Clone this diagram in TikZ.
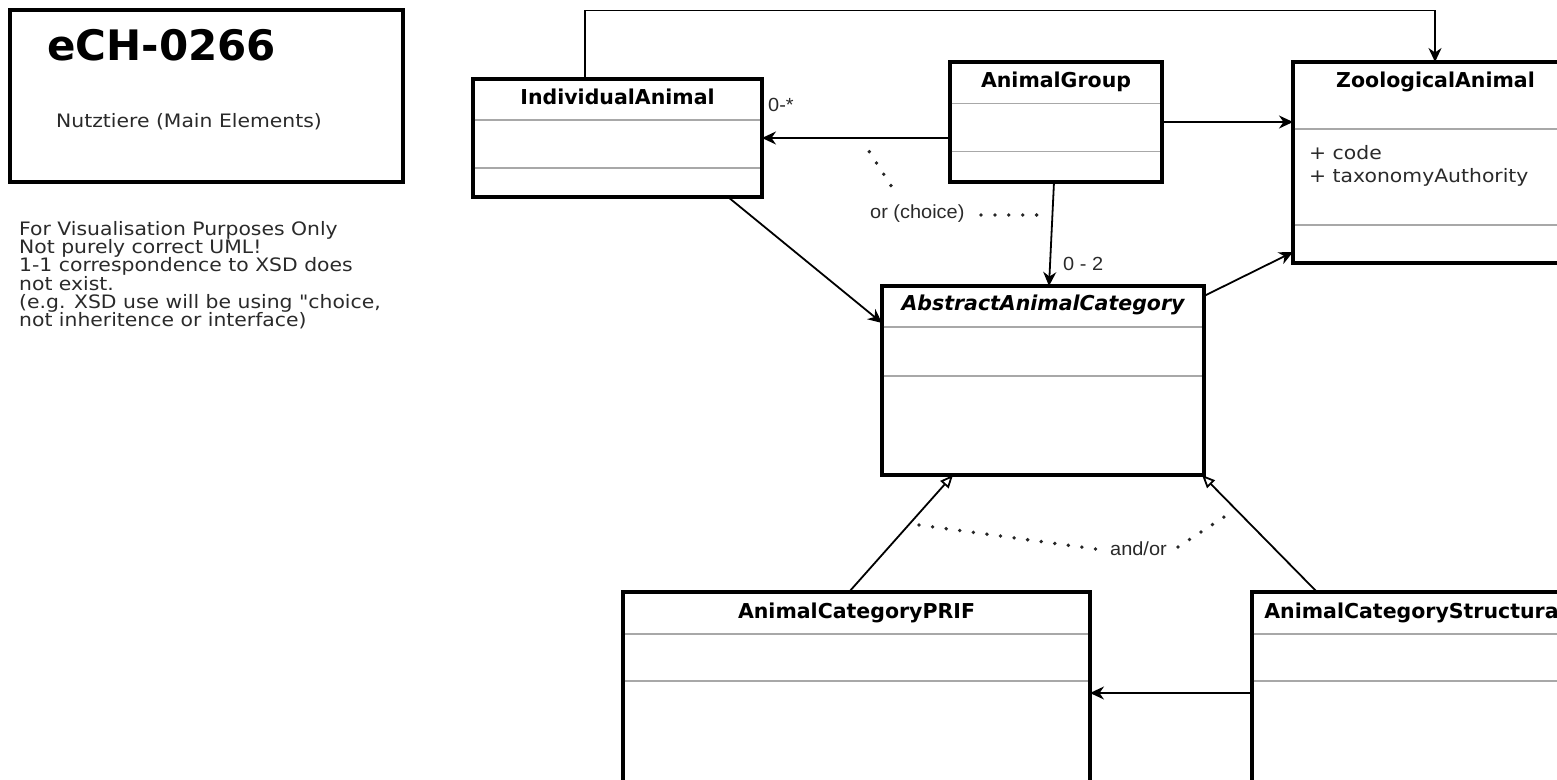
\documentclass[tikz,border=0pt]{standalone}
\usepackage{fontspec}
\setmainfont{DejaVu Sans}
\newfontfamily\regfont[FakeStretch=1.1]{DejaVu Sans}
\newfontfamily\labfont[FakeStretch=1.05]{Liberation Sans}
\usetikzlibrary{arrows.meta,calc}
\definecolor{txtgray}{HTML}{2A2A2A}
\definecolor{divgray}{HTML}{A8A8A8}
\begin{document}
\begin{tikzpicture}[x=1pt,y=-1pt,
  umlbox/.style={draw=black, line width=3.2pt, fill=white, inner sep=0pt, outer sep=0pt, anchor=north west},
  divline/.style={draw=divgray, line width=1.3pt, shorten <=1.6pt, shorten >=1.6pt},
  boxtitle/.style={font=\fontsize{20.5}{24}\selectfont\bfseries, anchor=base, inner sep=0pt},
  conn/.style={draw=black, line width=1.8pt},
  assoc/.style={conn, -{Stealth[length=14pt,width=13pt,inset=4.5pt]}},
  gen/.style={conn, -{Triangle[open,length=13pt,width=11pt,fill=white]}},
  dotline/.style={draw=black!85, line width=3.8pt, line cap=round, dash pattern=on 0pt off #1},
  lab/.style={font=\labfont\fontsize{19}{22}\selectfont, text=txtgray, inner sep=0pt, anchor=base west},
  reg/.style={font=\regfont\fontsize{18.5}{18.3}\selectfont, text=txtgray, inner sep=0pt},
]
\fill[white] (0,0) rectangle (1557,779);
\useasboundingbox (0,0) rectangle (1557,779);
\clip (0,0) rectangle (1557,779);

% header box
\node[umlbox, minimum width=393, minimum height=172] (hdr) at (10,10) {};
\node[font=\fontsize{42}{42}\selectfont\bfseries, anchor=base west, inner sep=0pt] (ech) at (47,60) {eCH-0266};
\node[reg, anchor=base west] (nutz) at (56,127) {Nutztiere (Main Elements)};

% notes
\node[reg, anchor=north west, align=left] (notes) at (19,221) {For Visualisation Purposes Only\\Not purely correct UML!\\1-1 correspondence to XSD does\\not exist.\\(e.g. XSD use will be using "choice,\\not inheritence or interface)};

% IndividualAnimal
\node[umlbox, minimum width=289, minimum height=118] (ia) at (473,79) {};
\draw[divline] ($(ia.north west)+(0,41)$) -- ($(ia.north east)+(0,41)$);
\draw[divline] ($(ia.north west)+(0,89)$) -- ($(ia.north east)+(0,89)$);
\node[boxtitle] (iat) at (617.5,104.5) {IndividualAnimal};

% AnimalGroup
\node[umlbox, minimum width=212, minimum height=120] (ag) at (950,62) {};
\draw[divline] ($(ag.north west)+(0,41.7)$) -- ($(ag.north east)+(0,41.7)$);
\draw[divline] ($(ag.north west)+(0,89.7)$) -- ($(ag.north east)+(0,89.7)$);
\node[boxtitle] (agt) at (1056,87.5) {AnimalGroup};

% ZoologicalAnimal
\node[umlbox, minimum width=285, minimum height=201] (za) at (1293,62) {};
\draw[divline] ($(za.north west)+(0,67)$) -- ($(za.north east)+(0,67)$);
\draw[divline] ($(za.north west)+(0,163)$) -- ($(za.north east)+(0,163)$);
\node[boxtitle] (zat) at (1435.5,87.5) {ZoologicalAnimal};
\node[reg, anchor=base west] (zaa1) at (1309,159) {+ code};
\node[reg, anchor=base west] (zaa2) at (1309,182.5) {+ taxonomyAuthority};

% AbstractAnimalCategory
\node[umlbox, minimum width=322, minimum height=189] (aac) at (882,286) {};
\draw[divline] ($(aac.north west)+(0,41)$) -- ($(aac.north east)+(0,41)$);
\draw[divline] ($(aac.north west)+(0,90)$) -- ($(aac.north east)+(0,90)$);
\node[boxtitle, font=\fontsize{20.5}{24}\selectfont\bfseries\itshape] (aact) at (1043,310.5) {AbstractAnimalCategory};

% AnimalCategoryPRIF
\node[umlbox, minimum width=467, minimum height=230] (prif) at (623,592) {};
\draw[divline] ($(prif.north west)+(0,42)$) -- ($(prif.north east)+(0,42)$);
\draw[divline] ($(prif.north west)+(0,89)$) -- ($(prif.north east)+(0,89)$);
\node[boxtitle] (prift) at (856.5,618) {AnimalCategoryPRIF};

% AnimalCategoryStructural
\node[umlbox, minimum width=326, minimum height=230] (st) at (1252,592) {};
\draw[divline] ($(st.north west)+(0,42)$) -- ($(st.north east)+(0,42)$);
\draw[divline] ($(st.north west)+(0,89)$) -- ($(st.north east)+(0,89)$);
\node[boxtitle] (stt) at (1415,618) {AnimalCategoryStructural};

% connectors
\draw[assoc] ($(ia.north west)+(112,0)$) -- ++(0,-68.5) -| ($(za.north west)+(142,0)$);
\draw[assoc] ($(ag.north west)+(0,76)$) -- ($(ia.north east)+(0,59)$);
\draw[assoc] ($(ag.north east)+(0,60)$) -- ($(za.north west)+(0,60)$);
\draw[assoc] ($(ag.south west)+(104,0)$) -- ($(aac.north west)+(167,0)$);
\draw[assoc] ($(ia.south west)+(255,0)$) -- ($(aac.north west)+(0,37)$);
\draw[assoc] ($(aac.north east)+(0,10)$) -- ($(za.north west)+(0,190)$);
\draw[gen] ($(prif.north west)+(226,0)$) -- ($(aac.south west)+(71,0)$);
\draw[gen] ($(st.north west)+(65,0)$) -- ($(aac.south east)+(-2,0)$);
\draw[assoc] ($(st.north west)+(0,101)$) -- ($(prif.north east)+(0,101)$);

% labels
\node[lab] (lzs) at (768,111) {0-*};
\node[lab] (l02) at (1063,270) {0 - 2};
\node[lab] (lor) at (870,218) {or (choice)};
\node[lab] (land) at (1110,555.5) {and/or};

% dotted markers
\draw[dotline=13.4pt] (869.3,151.7) -- (891,185.7);
\draw[dotline=13.9pt] (981,215) -- (1037,215);
\draw[dotline=13.7pt] (919,525) -- (1096,549);
\draw[dotline=13.7pt] (1178,547) -- (1224,517);
\end{tikzpicture}
\end{document}
